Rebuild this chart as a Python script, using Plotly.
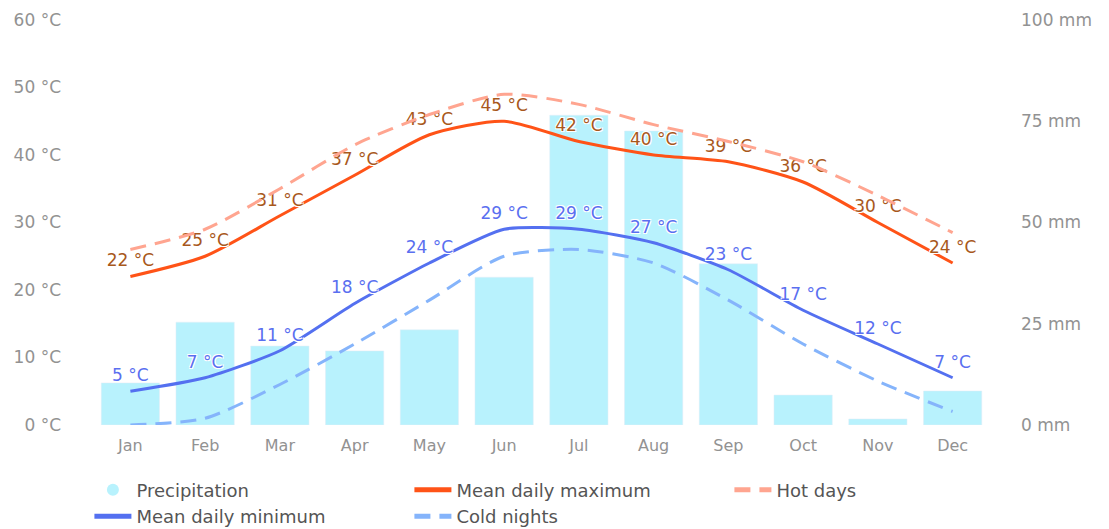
import plotly.graph_objects as go

months = ["Jan", "Feb", "Mar", "Apr", "May", "Jun", "Jul", "Aug", "Sep", "Oct", "Nov", "Dec"]
precipitation = [10.4, 25.4, 19.5, 18.3, 23.5, 36.5, 76.5, 72.6, 39.8, 7.4, 1.5, 8.4]
mean_max = [22, 25, 31, 37, 43, 45, 42, 40, 39, 36, 30, 24]
hot_days = [26, 29, 35, 41.5, 46, 49, 47.5, 44.5, 42, 39, 34, 28.5]
mean_min = [5, 7, 11, 18, 24, 29, 29, 27, 23, 17, 12, 7]
cold_nights = [0, 1, 6, 12, 18.5, 25, 26, 24, 18.5, 12, 6.5, 2]
temp_ticks = [0, 10, 20, 30, 40, 50, 60]
rain_ticks = [0, 25, 50, 75, 100]

FONT = "DejaVu Sans"
outline = "-1px -1px 0 #fff, 1px -1px 0 #fff, -1px 1px 0 #fff, 1px 1px 0 #fff"
BAR_COLOR = "#b8f2fd"
TICK_COLOR = "#929292"
CLEAR = "rgba(0,0,0,0)"

fig = go.Figure()
fig.add_trace(go.Scatter(x=[None], y=[None], name="Precipitation", mode="markers",
                         marker=dict(symbol="circle", size=17, color=BAR_COLOR), yaxis="y"))
fig.add_trace(go.Bar(x=months, y=precipitation, name="Precipitation", marker_color=BAR_COLOR,
                     yaxis="y", hoverinfo="skip", showlegend=False))
fig.add_trace(go.Scatter(x=months, y=mean_max, name="Mean daily maximum", mode="lines+markers+text",
                         line=dict(color="#ff5317", width=3, shape="spline", smoothing=0.7),
                         marker=dict(size=8, color=CLEAR, line=dict(width=0)),
                         text=[f"{v} °C" for v in mean_max], textposition="top center",
                         textfont=dict(color="#a8581c", size=17, family=FONT, shadow=outline),
                         yaxis="y2"))
fig.add_trace(go.Scatter(x=months, y=hot_days, name="Hot days", mode="lines",
                         line=dict(color="#ffa590", width=3, dash="16px,9px", shape="spline", smoothing=0.7),
                         yaxis="y2"))
fig.add_trace(go.Scatter(x=months, y=mean_min, name="Mean daily minimum", mode="lines+markers+text",
                         line=dict(color="#5470f0", width=3, shape="spline", smoothing=0.6),
                         marker=dict(size=8, color=CLEAR, line=dict(width=0)),
                         text=[f"{v} °C" for v in mean_min], textposition="top center",
                         textfont=dict(color="#5a6ff0", size=17, family=FONT, shadow=outline),
                         yaxis="y2"))
fig.add_trace(go.Scatter(x=months, y=cold_nights, name="Cold nights", mode="lines",
                         line=dict(color="#85b4fb", width=3, dash="16px,9px", shape="spline", smoothing=0.7),
                         yaxis="y2"))

fig.update_layout(
    width=1101, height=521,
    margin=dict(l=85, r=119, t=12, b=104, autoexpand=False),
    paper_bgcolor="white", plot_bgcolor="white",
    font=dict(family=FONT, color=TICK_COLOR),
    bargap=0.22,
    showlegend=True,
    xaxis=dict(type="category", categoryorder="array", categoryarray=months,
               range=[-0.5, len(months) - 0.5],
               showgrid=False, zeroline=False, showline=False,
               tickfont=dict(size=16, color=TICK_COLOR), ticklabelstandoff=9),
    yaxis=dict(side="right", range=[0, 100], tickvals=rain_ticks,
               ticktext=[f"{v} mm" for v in rain_ticks], showgrid=False, zeroline=False,
               tickfont=dict(size=17, color=TICK_COLOR), ticklabelstandoff=30),
    yaxis2=dict(side="left", overlaying="y", range=[0, 60], tickvals=temp_ticks,
                ticktext=[f"{v} °C" for v in temp_ticks], showgrid=False, zeroline=False,
                tickfont=dict(size=17, color=TICK_COLOR), ticklabelstandoff=31),
    legend=dict(orientation="h", x=-0.004, xanchor="left", y=-0.115, yanchor="top",
                entrywidth=268, itemwidth=37, font=dict(size=18, color="#555"),
                traceorder="normal", itemsizing="constant", tracegroupgap=0),
)

fig.write_html("out.html")
